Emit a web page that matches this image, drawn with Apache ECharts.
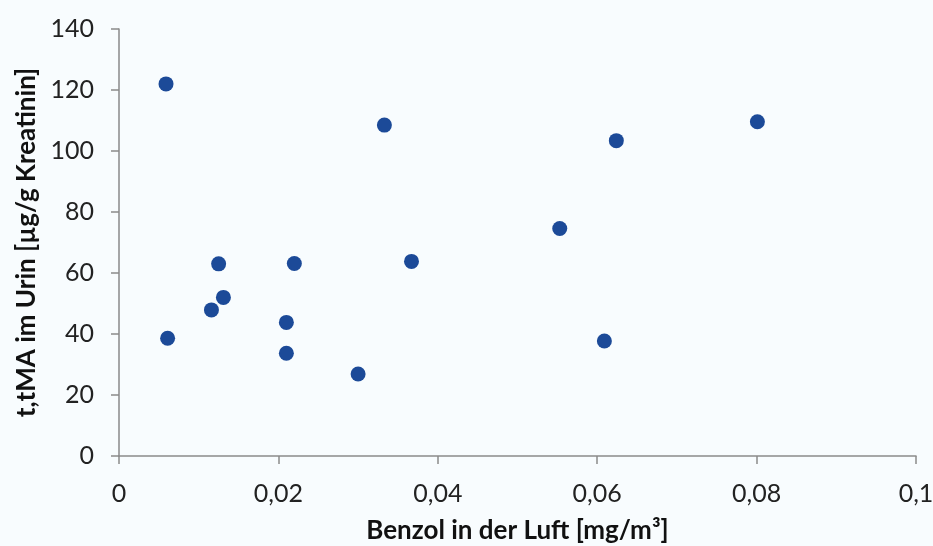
<!DOCTYPE html>
<html><head><meta charset="utf-8">
<script src="https://cdn.jsdelivr.net/npm/echarts@6/dist/echarts.min.js"></script>
<style>html,body{margin:0;padding:0;background:#f8fcfe}#c{width:933px;height:546px}</style>
</head><body><div id="c"></div>
<script>
const benzolX = [0.0059, 0.0061, 0.0116, 0.0125, 0.0131, 0.0210, 0.0210, 0.0220, 0.0300, 0.0333, 0.0367, 0.0553, 0.0609, 0.0624, 0.0801];
const ttmaY  = [122.0, 38.6, 47.9, 63.0, 52.0, 43.8, 33.7, 63.1, 26.9, 108.5, 63.8, 74.6, 37.7, 103.4, 109.6];
const xTitle = 'Benzol in der Luft [mg/m³]';
const yTitle = 't,tMA im Urin [µg/g Kreatinin]';
const font = 'Lato, "Open Sans", sans-serif';
const chart = echarts.init(document.getElementById('c'));
chart.setOption({
  backgroundColor: '#f8fcfe',
  animation: false,
  grid: {left: 119, right: 17, top: 29, bottom: 90, containLabel: false, outerBoundsMode: 'none'},
  xAxis: {
    type: 'value', min: 0, max: 0.1, interval: 0.02,
    name: xTitle, nameLocation: 'middle', nameGap: 62,
    nameTextStyle: {fontFamily: font, fontSize: 26, fontWeight: 'bold', color: '#111'},
    axisLine: {lineStyle: {color: '#8a8a8a', width: 1.5}},
    axisTick: {show: true, length: 8, lineStyle: {color: '#8a8a8a', width: 1.5}},
    axisLabel: {fontFamily: font, fontSize: 25, color: '#222', margin: 25,
      formatter: v => String(+v.toFixed(2)).replace('.', ',')},
    splitLine: {show: false}
  },
  yAxis: {
    type: 'value', min: 0, max: 140, interval: 20,
    name: yTitle, nameLocation: 'middle', nameGap: 77,
    nameTextStyle: {fontFamily: font, fontSize: 26, fontWeight: 'bold', color: '#111'},
    axisLine: {show: true, lineStyle: {color: '#8a8a8a', width: 1.5}},
    axisTick: {show: true, length: 8, lineStyle: {color: '#8a8a8a', width: 1.5}},
    axisLabel: {fontFamily: font, fontSize: 25, color: '#222', margin: 25},
    splitLine: {show: false}
  },
  series: [{
    type: 'scatter',
    data: benzolX.map((x, i) => [x, ttmaY[i]]),
    symbolSize: 15,
    itemStyle: {color: '#1c4a98', opacity: 1}
  }]
});
</script></body></html>
